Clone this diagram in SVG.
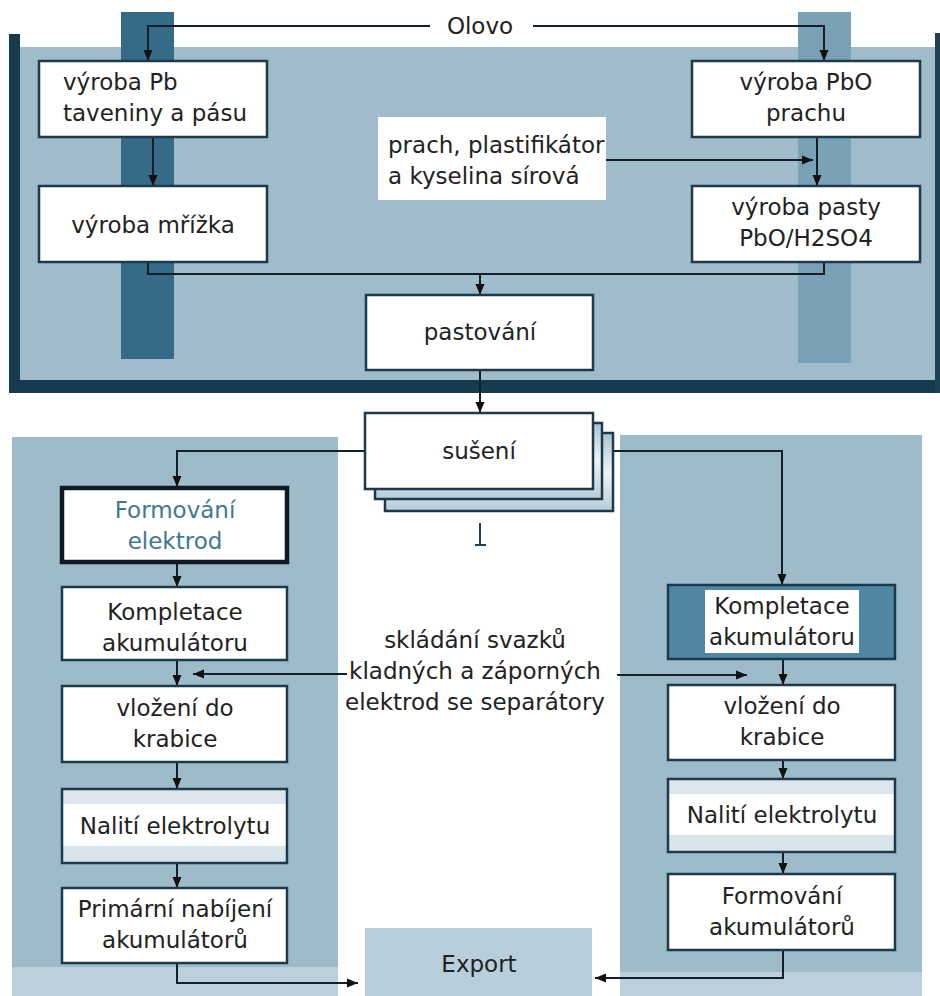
<svg xmlns="http://www.w3.org/2000/svg" width="940" height="996" viewBox="0 0 940 996">
<defs>
<marker id="ah" markerWidth="12" markerHeight="12" refX="11" refY="5.5" orient="auto" markerUnits="userSpaceOnUse">
<path d="M0,1 L11,5.5 L0,10 Z" fill="#111"/>
</marker>
<linearGradient id="nal" x1="0" y1="0" x2="0" y2="1">
<stop offset="0" stop-color="#dbe5eb"/><stop offset="0.2" stop-color="#dbe5eb"/>
<stop offset="0.2" stop-color="#ffffff"/><stop offset="0.77" stop-color="#ffffff"/>
<stop offset="0.77" stop-color="#d8e3ea"/><stop offset="1" stop-color="#d8e3ea"/>
</linearGradient>
<linearGradient id="stack" x1="0" y1="0" x2="0" y2="1">
<stop offset="0" stop-color="#a9c3d1"/><stop offset="0.5" stop-color="#eef4f7"/><stop offset="1" stop-color="#b7ccd8"/>
</linearGradient>
<style>
text{font-family:"DejaVu Sans","Liberation Sans",sans-serif;font-size:23px;fill:#222}
.c{text-anchor:middle}
.box{fill:#fff;stroke:#1c3a4c;stroke-width:2.5}
.ln{fill:none;stroke:#13202a;stroke-width:2}
</style>
</defs>
<rect width="940" height="996" fill="#fff"/>
<!-- top panel -->
<g id="top-panel">
<rect x="20" y="47" width="915" height="333" fill="#a0bccb"/>
<rect x="121" y="12" width="53" height="347" fill="#356b86"/>
<rect x="798" y="12" width="53" height="351" fill="#79a2b7"/>
<rect x="9" y="34" width="11" height="359" fill="#173a4e"/>
<rect x="9" y="380" width="931" height="13" fill="#173a4e"/>
<rect x="935" y="33" width="5" height="360" fill="#1d4257"/>
</g>
<!-- bottom panels -->
<g id="bottom-panels">
<rect x="12" y="437" width="326" height="559" fill="#9ebbca"/>
<rect x="12" y="967" width="326" height="29" fill="#bbd0db"/>
<rect x="620" y="435" width="302" height="561" fill="#9ebbca"/>
<rect x="620" y="972" width="302" height="24" fill="#bbd0db"/>
</g>
<g id="connectors">
<path class="ln" d="M430,26 H148 V61" marker-end="url(#ah)"/>
<path class="ln" d="M533,26 H824 V61" marker-end="url(#ah)"/>
<path class="ln" d="M153,137 V186" marker-end="url(#ah)"/>
<path class="ln" d="M817,137 V186" marker-end="url(#ah)"/>
<path class="ln" d="M605,160 H813" marker-end="url(#ah)"/>
<path class="ln" d="M148,262 V274 H824 V262"/>
<path class="ln" d="M480,274 V295" marker-end="url(#ah)"/>
<path class="ln" d="M480,370 V413" marker-end="url(#ah)"/>
<path class="ln" d="M365,451 H177 V487" marker-end="url(#ah)"/>
<path class="ln" d="M613,451 H782 V585" marker-end="url(#ah)"/>
<path class="ln" d="M177,562 V587" marker-end="url(#ah)"/>
<path class="ln" d="M177,660 V686" marker-end="url(#ah)"/>
<path class="ln" d="M177,762 V789" marker-end="url(#ah)"/>
<path class="ln" d="M177,863 V888" marker-end="url(#ah)"/>
<path class="ln" d="M177,963 V983 H358" marker-end="url(#ah)"/>
<path class="ln" d="M783,659 V685" marker-end="url(#ah)"/>
<path class="ln" d="M783,760 V779" marker-end="url(#ah)"/>
<path class="ln" d="M783,852 V874" marker-end="url(#ah)"/>
<path class="ln" d="M783,950 V978 H595" marker-end="url(#ah)"/>
<path class="ln" d="M347,674 H193" marker-end="url(#ah)"/>
<path class="ln" d="M617,675 H747" marker-end="url(#ah)"/>
</g>
<g id="olovo"><text class="c" x="480" y="34">Olovo</text></g>
<g id="vyroba-pb">
<rect class="box" x="39" y="61" width="228" height="76"/>
<text x="63" y="90">výroba Pb</text>
<text x="63" y="121">taveniny a pásu</text>
</g>
<g id="vyroba-mrizka">
<rect class="box" x="39" y="186" width="228" height="76"/>
<text class="c" x="153" y="233">výroba mřížka</text>
</g>
<g id="prach-label">
<rect x="378" y="117" width="228" height="83" fill="#fff"/>
<text x="388" y="153">prach, plastifikátor</text>
<text x="388" y="184">a kyselina sírová</text>
</g>
<g id="vyroba-pbo">
<rect class="box" x="692" y="61" width="228" height="76"/>
<text class="c" x="806" y="90">výroba PbO</text>
<text class="c" x="806" y="121">prachu</text>
</g>
<g id="vyroba-pasty">
<rect class="box" x="692" y="186" width="228" height="76"/>
<text class="c" x="806" y="215">výroba pasty</text>
<text class="c" x="806" y="246">PbO/H2SO4</text>
</g>
<g id="pastovani">
<rect class="box" x="366" y="295" width="227" height="75"/>
<text class="c" x="480" y="340">pastování</text>
</g>
<g id="suseni">
<rect x="385" y="433" width="228" height="78" fill="url(#stack)" stroke="#1c3a4c" stroke-width="2.5"/>
<rect x="375" y="423" width="227" height="76" fill="url(#stack)" stroke="#1c3a4c" stroke-width="2.5"/>
<rect class="box" x="365" y="413" width="228" height="76"/>
<text class="c" x="479" y="459">sušení</text>
</g>
<g id="mark">
<path d="M480,523 V545 M475,545 H486" fill="none" stroke="#1f3f55" stroke-width="2"/>
</g>
<g id="formovani-elektrod">
<rect x="62" y="488" width="225" height="74" fill="#fff" stroke="#0d1a22" stroke-width="4.5"/>
<text class="c" x="175" y="518" style="fill:#3f7893">Formování</text>
<text class="c" x="175" y="549" style="fill:#3f7893">elektrod</text>
</g>
<g id="kompletace-l">
<rect class="box" x="62" y="587" width="225" height="73"/>
<text class="c" x="175" y="620">Kompletace</text>
<text class="c" x="175" y="651">akumulátoru</text>
</g>
<g id="vlozeni-l">
<rect class="box" x="62" y="686" width="225" height="76"/>
<text class="c" x="175" y="716">vložení do</text>
<text class="c" x="175" y="747">krabice</text>
</g>
<g id="naliti-l">
<rect x="62" y="789" width="225" height="74" fill="url(#nal)" stroke="#1c3a4c" stroke-width="2.5"/>
<text class="c" x="175" y="834">Nalití elektrolytu</text>
</g>
<g id="primarni">
<rect class="box" x="62" y="888" width="225" height="75"/>
<text class="c" x="175" y="917">Primární nabíjení</text>
<text class="c" x="175" y="948">akumulátorů</text>
</g>
<g id="skladani">
<text class="c" x="475" y="648">skládání svazků</text>
<text class="c" x="475" y="679">kladných a záporných</text>
<text class="c" x="475" y="710">elektrod se separátory</text>
</g>
<g id="kompletace-r">
<rect x="668" y="585" width="227" height="74" fill="#4f87a2" stroke="#1c3a4c" stroke-width="2.5"/>
<rect x="705" y="590" width="154" height="63" fill="#fff"/>
<text class="c" x="782" y="614">Kompletace</text>
<text class="c" x="782" y="645">akumulátoru</text>
</g>
<g id="vlozeni-r">
<rect class="box" x="668" y="685" width="227" height="75"/>
<text class="c" x="782" y="714">vložení do</text>
<text class="c" x="782" y="745">krabice</text>
</g>
<g id="naliti-r">
<rect x="668" y="779" width="227" height="73" fill="url(#nal)" stroke="#1c3a4c" stroke-width="2.5"/>
<text class="c" x="782" y="823">Nalití elektrolytu</text>
</g>
<g id="formovani-akumulatoru">
<rect class="box" x="668" y="874" width="227" height="76"/>
<text class="c" x="782" y="904">Formování</text>
<text class="c" x="782" y="935">akumulátorů</text>
</g>
<g id="export">
<rect x="365" y="928" width="227" height="68" fill="#b8cedb"/>
<text class="c" x="479" y="972">Export</text>
</g>
</svg>
